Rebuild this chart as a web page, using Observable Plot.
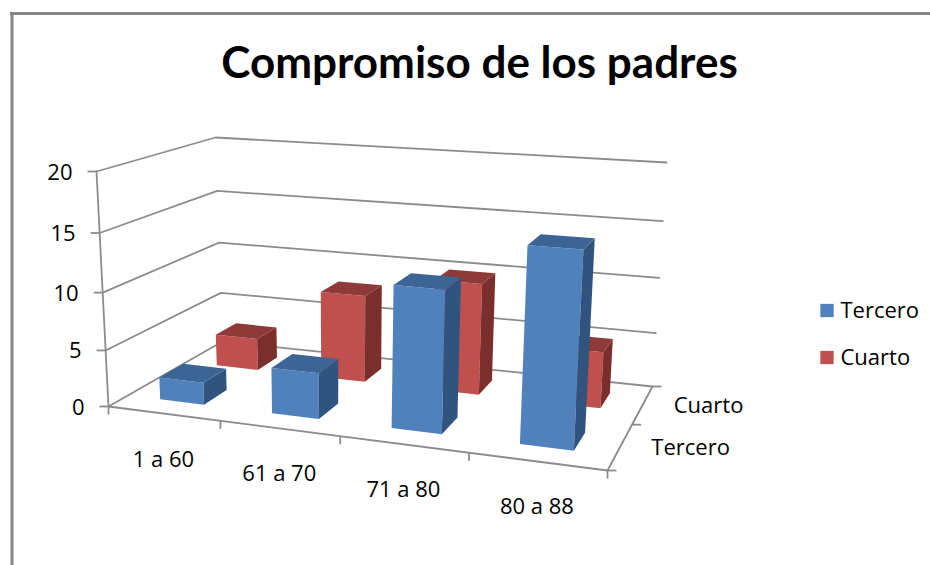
<!DOCTYPE html>
<html><head><meta charset="utf-8">
<script src="https://cdn.jsdelivr.net/npm/d3@7"></script>
<script src="https://cdn.jsdelivr.net/npm/@observablehq/plot@0.6"></script>
<style>html,body{margin:0;padding:0;background:#fff;overflow:hidden}svg{display:block}</style>
</head><body><div id="chart"></div>
<script>
const title = "Compromiso de los padres";
const categories = ["1 a 60", "61 a 70", "71 a 80", "80 a 88"];
const seriesNames = ["Tercero", "Cuarto"];
const tercero = [2, 4, 12, 16];
const cuarto = [3, 8, 10, 5];
const yTicks = [0, 5, 10, 15, 20];
const colors = {
  Tercero: {front: "#4F81BD", top: "#3C6595", side: "#31547E"},
  Cuarto: {front: "#C0504D", top: "#8E3A38", side: "#7A2F2D"}
};
const FONT = "Open Sans";
const LABEL = 22;
const GRID = "#8c8c8c";
const yMax = 20;

// Perspective of the 3D box: corners of floor and ceiling in the picture
function quad(p00, p10, p11, p01) {
  const dx1 = p10[0] - p11[0], dx2 = p01[0] - p11[0], sx = p00[0] - p10[0] + p11[0] - p01[0];
  const dy1 = p10[1] - p11[1], dy2 = p01[1] - p11[1], sy = p00[1] - p10[1] + p11[1] - p01[1];
  const den = dx1 * dy2 - dx2 * dy1;
  const g = (sx * dy2 - dx2 * sy) / den, h = (dx1 * sy - sx * dy1) / den;
  const a = p10[0] - p00[0] + g * p10[0], b = p01[0] - p00[0] + h * p01[0], c = p00[0];
  const d = p10[1] - p00[1] + g * p10[1], e = p01[1] - p00[1] + h * p01[1], f = p00[1];
  return (s, t) => {
    const w = g * s + h * t + 1;
    return [(a * s + b * t + c) / w, (d * s + e * t + f) / w];
  };
}
const floor3d = quad([108, 406], [607, 470], [652, 386], [222, 341]);
const ceil3d = quad([96, 171], [621, 206], [666, 162], [215, 137]);
function project(u, v, w) {
  const s = u / categories.length, t = v / seriesNames.length;
  const r = w / yMax, k = r * 0.94 / (1 + r * (0.94 - 1));
  const a = floor3d(s, t), b = ceil3d(s, t);
  return {x: a[0] + (b[0] - a[0]) * k, y: a[1] + (b[1] - a[1]) * k};
}

// Bars → faces, back row first, left to right
const gap = 0.3;
function barFaces(i, j, value, c) {
  const u0 = i + gap, u1 = i + 1 - gap, v0 = j + gap, v1 = j + 1 - gap;
  return [
    {fill: c.front, pts: [project(u0, v0, 0), project(u1, v0, 0), project(u1, v0, value), project(u0, v0, value)]},
    {fill: c.side, pts: [project(u1, v0, 0), project(u1, v1, 0), project(u1, v1, value), project(u1, v0, value)]},
    {fill: c.top, pts: [project(u0, v0, value), project(u1, v0, value), project(u1, v1, value), project(u0, v1, value)]}
  ];
}
const faces = [
  ...cuarto.flatMap((d, i) => barFaces(i, 1, d, colors.Cuarto)),
  ...tercero.flatMap((d, i) => barFaces(i, 0, d, colors.Tercero))
];

const nC = categories.length, nS = seriesNames.length;
const gridLines = yTicks.map(w => [project(0, 0, w), project(0, nS, w), project(nC, nS, w)]);
const yTickRows = yTicks.map(w => ({...project(0, 0, w), label: String(w)}));
const xBounds = d3.range(1, nC + 1).map(i => project(i, 0, 0));
const depthBounds = d3.range(0, nS + 1).map(j => project(nC, j, 0));
const catLabels = categories.map((c, i) => ({...project(i + 0.5, 0, 0), label: c}));
const depthLabels = seriesNames.map((s, j) => ({...project(nC, j + 0.5, 0), label: s}));
const origin = project(0, 0, 0);
const legendRows = seriesNames.map((s, j) => ({label: s, y: 310 + j * 47, color: colors[s].front}));

const textBase = {x: "x", y: "y", text: "label", fontFamily: FONT, fontSize: LABEL, fill: "#000"};
const ln = pts => Plot.line(pts, {x: "x", y: "y", stroke: GRID, strokeWidth: 1.8});

const chart = Plot.plot({
  width: 930, height: 565,
  margin: 0,
  x: {domain: [0, 930], range: [0, 930], axis: null},
  y: {domain: [0, 565], range: [0, 565], axis: null},
  style: {background: "#fff", fontFamily: FONT},
  marks: [
    Plot.ruleX([11.5], {y1: 13, y2: 565, stroke: "#868686", strokeWidth: 3}),
    Plot.ruleY([13], {x1: 10, x2: 930, stroke: "#868686", strokeWidth: 3}),
    Plot.text([{x: 479, y: 63, label: title}], {...textBase, fontFamily: "Lato", fontSize: 44, fontWeight: 700}),
    ...gridLines.map(ln),
    ln([project(0, 0, 0), project(0, 0, yMax)]),
    ln([project(0, 0, 0), project(nC, 0, 0)]),
    ln([project(nC, 0, 0), project(nC, nS, 0)]),
    Plot.link(yTickRows, {x1: d => d.x - 9, x2: "x", y1: "y", y2: "y", stroke: GRID, strokeWidth: 1.8}),
    Plot.link(depthBounds, {x1: "x", x2: d => d.x + 9, y1: "y", y2: "y", stroke: GRID, strokeWidth: 1.8}),
    Plot.link([origin, ...xBounds], {x1: "x", x2: "x", y1: "y", y2: d => d.y + 8, stroke: GRID, strokeWidth: 1.8}),
    ...faces.map(f => Plot.line(f.pts, {x: "x", y: "y", fill: f.fill, stroke: "none"})),
    Plot.text(yTickRows, {...textBase, textAnchor: "end", dx: -24, dy: 1}),
    Plot.text(catLabels, {...textBase, dy: 46}),
    Plot.text(depthLabels, {...textBase, textAnchor: "start", dx: 31, dy: 1.5}),
    Plot.dot(legendRows, {x: () => 826.5, y: "y", symbol: "square", r: 7.5, fill: "color", stroke: "none"}),
    Plot.text(legendRows, {...textBase, x: () => 840, textAnchor: "start"})
  ]
});
document.getElementById("chart").append(chart);
</script></body></html>
